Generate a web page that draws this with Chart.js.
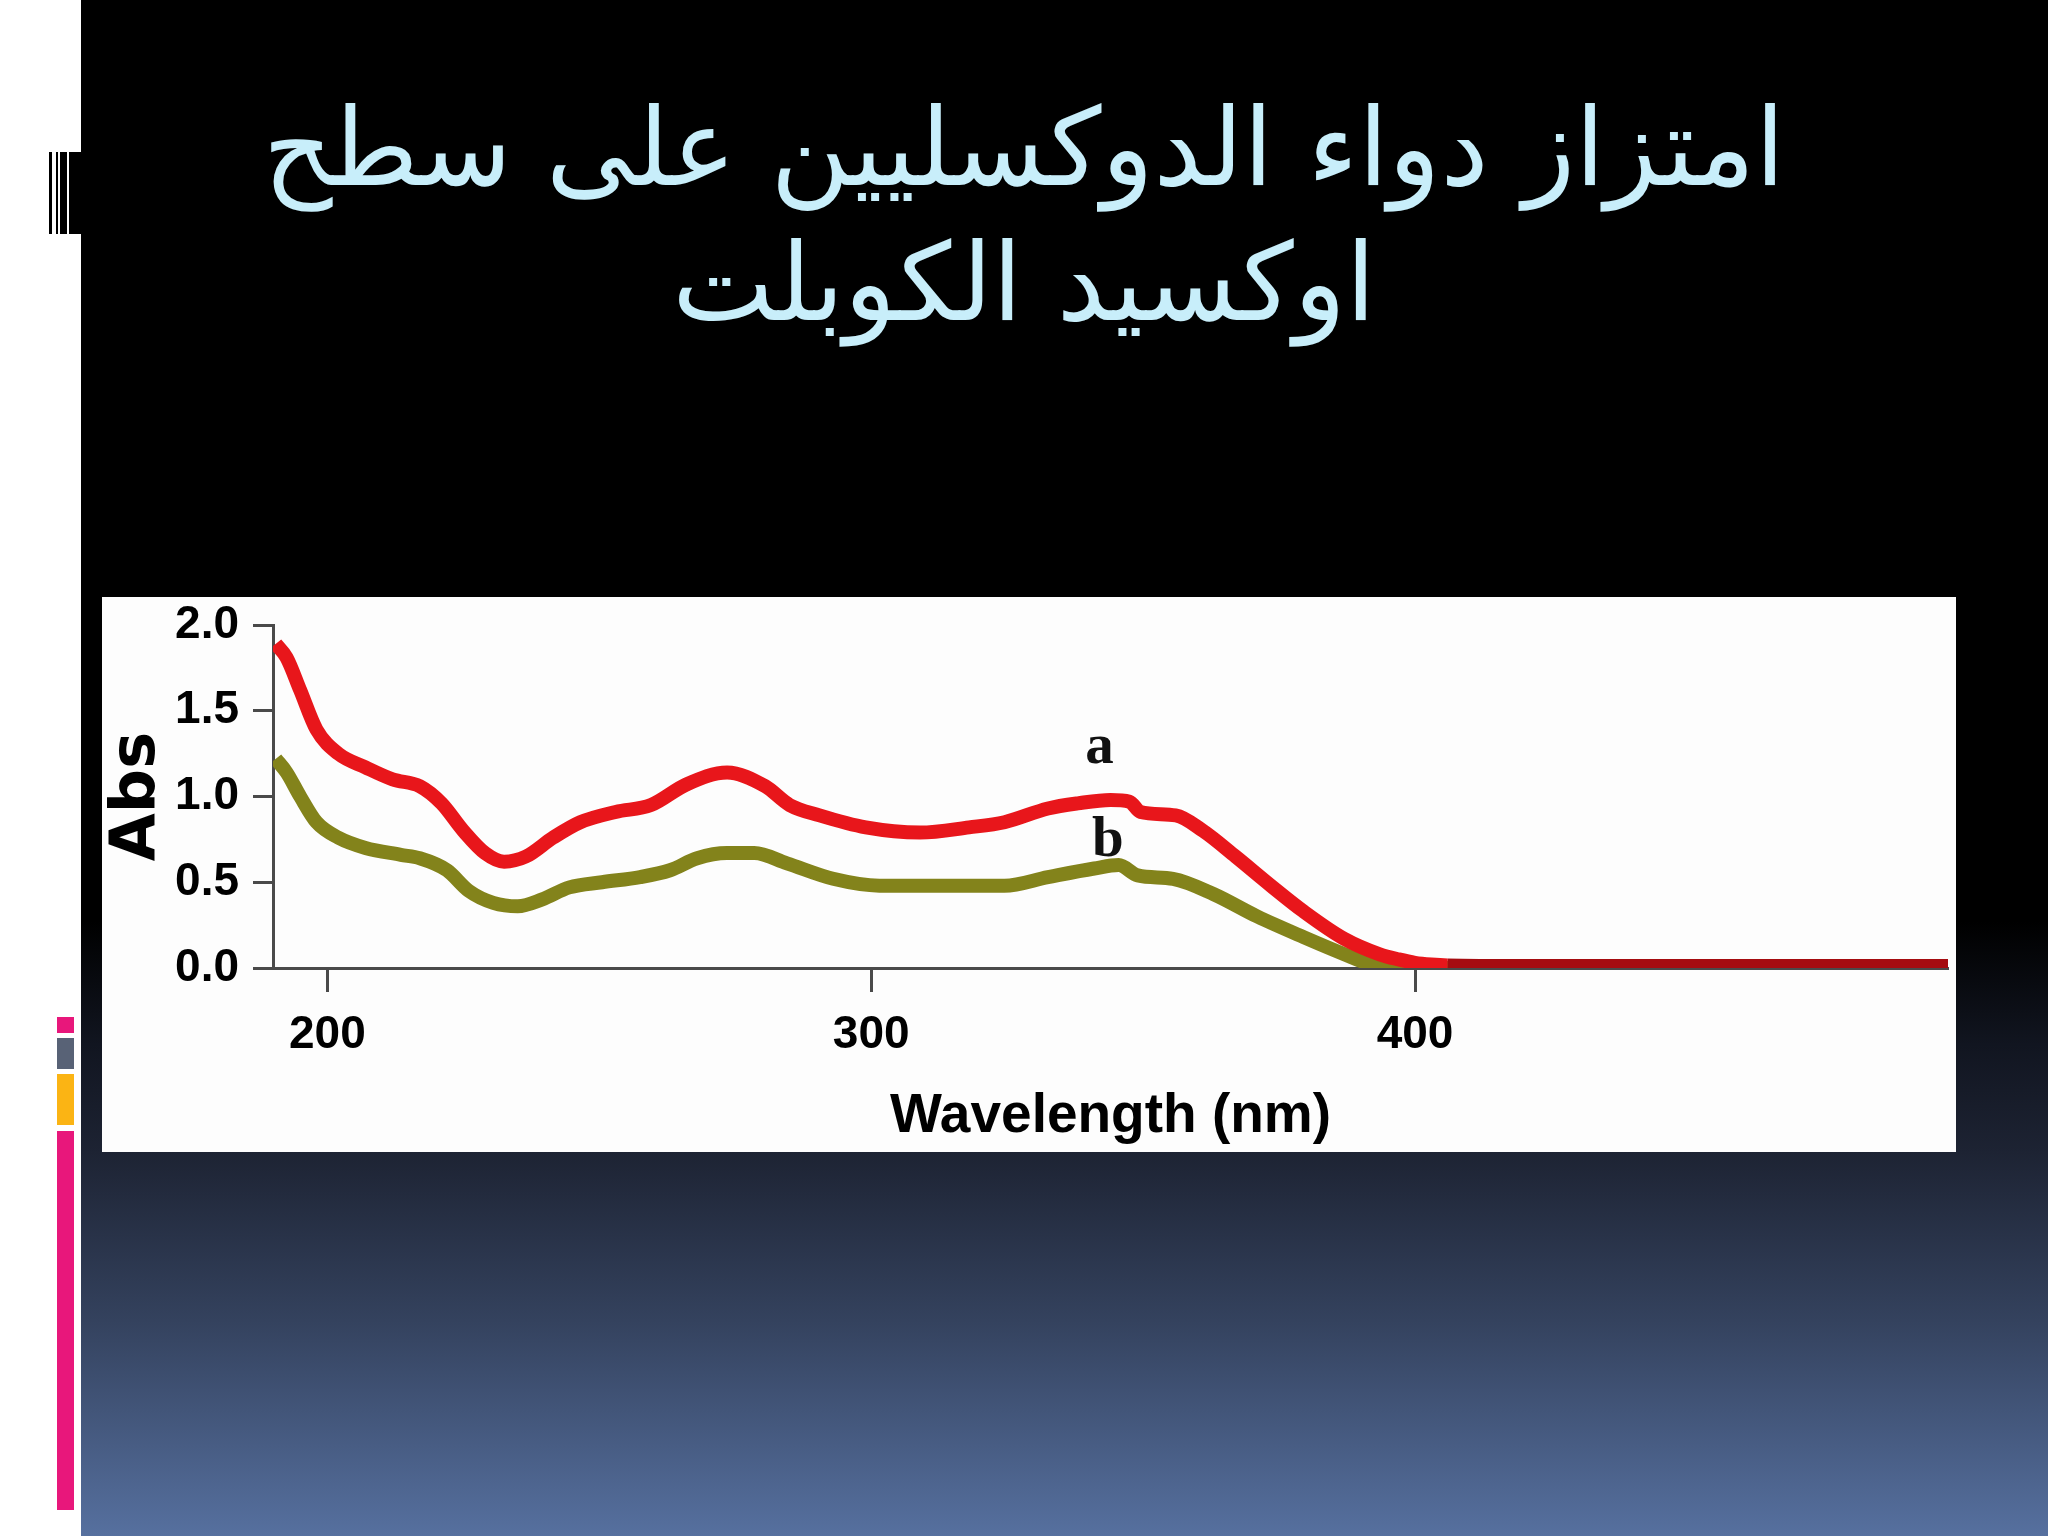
<!DOCTYPE html>
<html lang="ar">
<head>
<meta charset="utf-8">
<title>امتزاز دواء الدوكسليين على سطح اوكسيد الكوبلت</title>
<script src="https://cdn.jsdelivr.net/npm/chart.js@4.4.1/dist/chart.umd.min.js"></script>
<style>
  html, body { margin: 0; padding: 0; }
  body { width: 2048px; height: 1536px; overflow: hidden; background: #fff; position: relative; }
  /* fondo de la diapositiva */
  #slide {
    position: absolute; left: 81px; top: 0; width: 1967px; height: 1536px;
    background: linear-gradient(to bottom, #000 0%, #000 60%, #111520 68%, #1d2333 75%, #34425e 86%, #56709f 100%);
  }
  .bar { position: absolute; background: #000; }
  .block { position: absolute; left: 57px; width: 17px; }
  #title {
    position: absolute; left: 0; top: 80px; width: 2048px;
    text-align: center; direction: rtl;
    font-family: "DejaVu Sans", sans-serif; font-size: 108px; line-height: 135px;
    color: #c8eefa; margin: 0; font-weight: normal;
  }
  #chartBox {
    position: absolute; left: 102px; top: 597px; width: 1854px; height: 555px;
    background: #fdfdfd;
  }
</style>
</head>
<body>
<div id="slide"></div>
<!-- barras decorativas de la izquierda -->
<div class="bar" style="left:49px;top:152px;width:3px;height:82px"></div>
<div class="bar" style="left:56px;top:152px;width:2px;height:82px"></div>
<div class="bar" style="left:60px;top:152px;width:7px;height:82px"></div>
<div class="bar" style="left:69px;top:152px;width:12px;height:82px"></div>
<div class="block" style="top:1017px;height:16px;background:#e8177b"></div>
<div class="block" style="top:1038px;height:31px;background:#586276"></div>
<div class="block" style="top:1074px;height:51px;background:#fbb414"></div>
<div class="block" style="top:1131px;height:379px;background:#e8177b"></div>

<h1 id="title">امتزاز دواء الدوكسليين على سطح<br>اوكسيد الكوبلت</h1>

<div id="chartBox"><canvas id="spectrumChart"></canvas></div>

<script>
const wavelengthsA = [190.5, 192.5, 195, 198, 202, 207, 212, 217, 221, 225, 229, 232.5, 236.5, 241.5, 246.5, 253, 259.5, 266, 273.5, 280.5, 285, 290.5, 299, 309, 318, 324.5, 332.5, 338, 344, 347.5, 349.5, 356, 361, 367, 373.5, 379.5, 387, 393.5, 397, 400, 403, 406, 420, 498];
const absorbanceA = [1.89, 1.81, 1.62, 1.39, 1.25, 1.17, 1.10, 1.06, 0.96, 0.80, 0.67, 0.62, 0.65, 0.76, 0.85, 0.91, 0.95, 1.07, 1.14, 1.06, 0.95, 0.89, 0.82, 0.79, 0.82, 0.85, 0.93, 0.96, 0.98, 0.97, 0.91, 0.89, 0.80, 0.65, 0.48, 0.33, 0.17, 0.08, 0.05, 0.03, 0.02, 0.015, 0.012, 0.012];

const wavelengthsB = [190.5, 192.5, 195, 198, 202, 207, 213.5, 217, 222, 226, 230.5, 235, 239.5, 244.5, 250.5, 257.5, 263, 268, 273.5, 278.5, 284.5, 293, 301.5, 313.5, 324.5, 332.5, 341, 345.5, 349, 355.5, 363, 371, 379.5, 387, 392, 396, 400, 498];
const absorbanceB = [1.22, 1.14, 1.00, 0.85, 0.76, 0.70, 0.66, 0.64, 0.57, 0.45, 0.38, 0.36, 0.40, 0.47, 0.50, 0.53, 0.57, 0.64, 0.67, 0.67, 0.61, 0.52, 0.48, 0.48, 0.48, 0.53, 0.58, 0.60, 0.54, 0.52, 0.43, 0.30, 0.18, 0.08, 0.02, 0.005, 0.0, 0.0];

const xTickValues = [200, 300, 400];
const yTickStep = 0.5;

// Etiquetas de las curvas (a, b) en coordenadas de datos
const curveLabels = ['a', 'b'];
const curveLabelX = [342.0, 343.5];
const curveLabelY = [1.28, 0.74];

const toPoints = (xs, ys) => xs.map((x, i) => ({ x: x, y: ys[i] }));

const axisFont = "'Liberation Sans', Arial, sans-serif";

// Plugin para dibujar las letras a y b junto a las curvas
const curveLabelPlugin = {
    id: 'curveLabels',
    afterDatasetsDraw(chart) {
        const ctx = chart.ctx;
        const xs = chart.scales.x;
        const ys = chart.scales.y;
        ctx.save();
        ctx.font = "bold 57px 'Liberation Serif', 'DejaVu Serif', serif";
        ctx.fillStyle = '#111';
        ctx.textAlign = 'center';
        ctx.textBaseline = 'middle';
        curveLabels.forEach((txt, i) => {
            ctx.fillText(txt, xs.getPixelForValue(curveLabelX[i]), ys.getPixelForValue(curveLabelY[i]));
        });
        ctx.restore();
    }
};

const flatColor = (ctx, color) =>
    (ctx.p0.parsed.y < 0.02 && ctx.p1.parsed.y < 0.02) ? color : undefined;

new Chart(document.getElementById('spectrumChart'), {
    type: 'line',
    data: {
        datasets: [
            {
                label: 'a',
                data: toPoints(wavelengthsA, absorbanceA),
                borderColor: '#e8161b',
                borderWidth: 14,
                pointRadius: 0,
                cubicInterpolationMode: 'monotone',
                segment: { borderColor: ctx => flatColor(ctx, '#a50c10') }
            },
            {
                label: 'b',
                data: toPoints(wavelengthsB, absorbanceB),
                borderColor: '#83831b',
                borderWidth: 14,
                pointRadius: 0,
                cubicInterpolationMode: 'monotone'
            }
        ]
    },
    options: {
        responsive: true,
        maintainAspectRatio: false,
        animation: false,
        layout: { padding: { left: 0, right: 8, top: 28, bottom: 0 } },
        plugins: {
            legend: { display: false },
            tooltip: { enabled: false }
        },
        scales: {
            x: {
                type: 'linear',
                min: 190,
                max: 498,
                afterBuildTicks: (scale) => { scale.ticks = xTickValues.map(v => ({ value: v })); },
                afterFit: (scale) => { scale.height = 184; },
                grid: { drawOnChartArea: false, tickLength: 24, tickWidth: 3, tickColor: '#4a4a4a' },
                border: { color: '#4a4a4a', width: 3 },
                ticks: {
                    color: '#000',
                    padding: 16,
                    maxRotation: 0,
                    font: { family: axisFont, size: 46, weight: 'bold' }
                },
                title: {
                    display: true,
                    text: 'Wavelength (nm)',
                    color: '#000',
                    padding: { top: 0, bottom: 2 },
                    font: { family: axisFont, size: 55, weight: 'bold' }
                }
            },
            y: {
                min: 0,
                max: 2,
                afterFit: (scale) => {
                    scale.width = 171;
                    scale.paddingTop = 0;
                    scale.paddingBottom = 0;
                },
                grid: { drawOnChartArea: false, tickLength: 20, tickWidth: 3, tickColor: '#4a4a4a' },
                border: { color: '#4a4a4a', width: 3 },
                ticks: {
                    stepSize: yTickStep,
                    color: '#000',
                    padding: 14,
                    callback: (v) => v.toFixed(1),
                    font: { family: axisFont, size: 46, weight: 'bold' }
                },
                title: {
                    display: true,
                    text: 'Abs',
                    color: '#000',
                    padding: { top: 8, bottom: 0 },
                    font: { family: "'DejaVu Sans', sans-serif", size: 62, weight: 'bold', lineHeight: 0.9 }
                }
            }
        }
    },
    plugins: [curveLabelPlugin]
});
</script>
</body>
</html>
